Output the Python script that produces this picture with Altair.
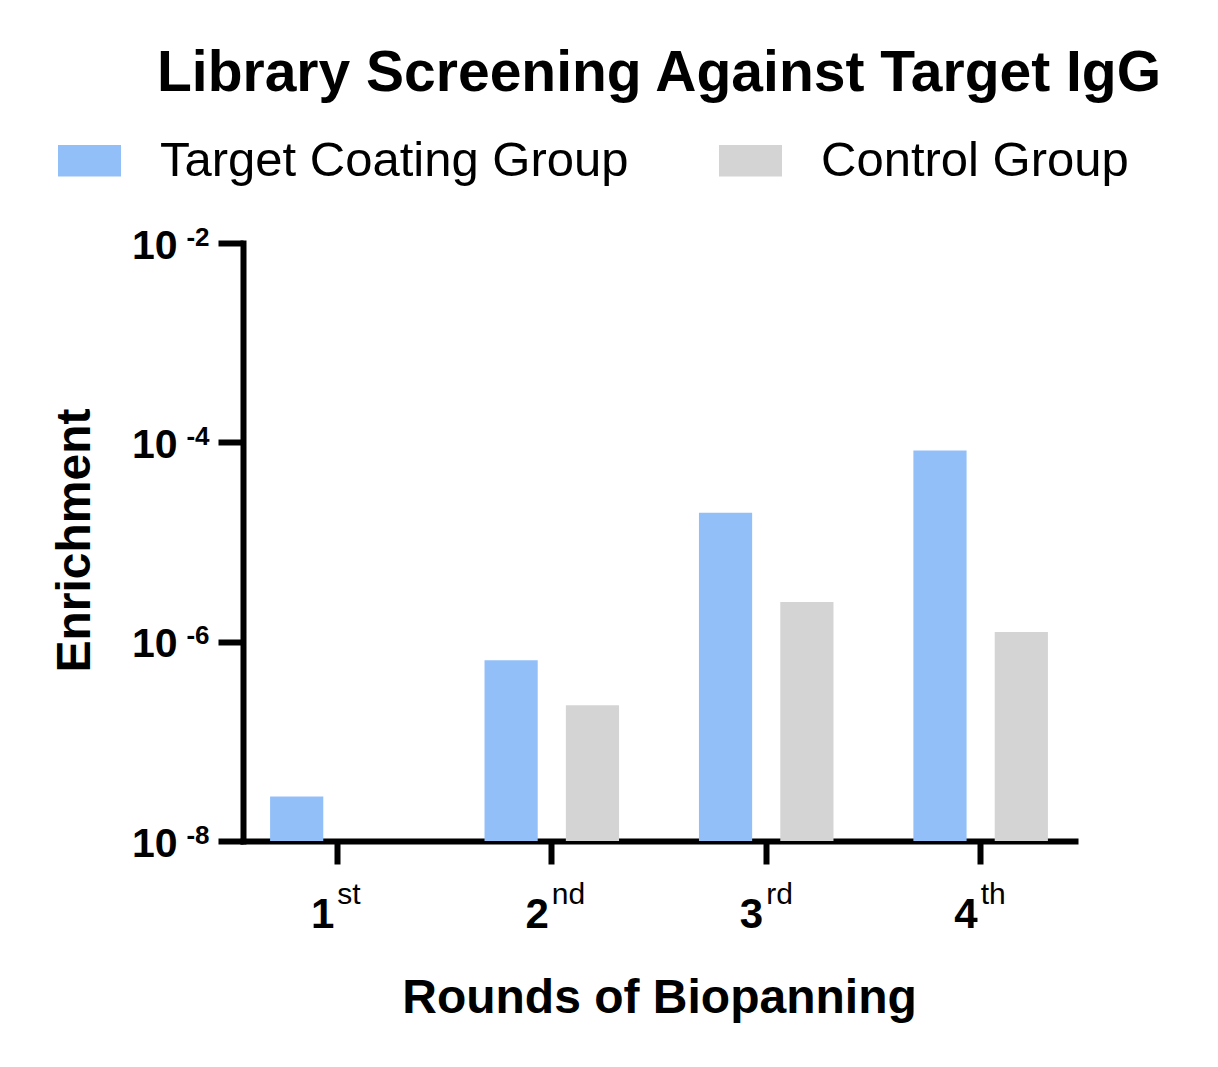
import altair as alt
import pandas as pd

TITLE = "Library Screening Against Target IgG"
X_TITLE = "Rounds of Biopanning"
Y_TITLE = "Enrichment"

ROUNDS = ["1", "2", "3", "4"]
ROUND_SUFFIXES = ["st", "nd", "rd", "th"]
GROUPS = ["Target Coating Group", "Control Group"]
GROUP_COLORS = ["#93bff8", "#d4d4d4"]
TARGET = [2.8e-8, 6.5e-7, 1.96e-5, 8.3e-5]
CONTROL = [None, 2.3e-7, 2.5e-6, 1.25e-6]
Y_TICKS = [1e-8, 1e-6, 1e-4, 1e-2]
Y_BASE = 1e-8

FONT = "Liberation Sans"
W, H = 832, 598

rows = []
for rnd, t, c in zip(ROUNDS, TARGET, CONTROL):
    rows.append({"round": rnd, "group": GROUPS[0], "value": t})
    if c is not None:
        rows.append({"round": rnd, "group": GROUPS[1], "value": c})
data = pd.DataFrame(rows)

x_scale = alt.Scale(domain=ROUNDS, paddingInner=0.12, paddingOuter=0)
offset = alt.XOffset(
    "group:N", scale=alt.Scale(domain=GROUPS, paddingInner=0.346, paddingOuter=0.333)
)
y_scale = alt.Scale(type="log", domain=[Y_TICKS[0], Y_TICKS[-1]], nice=False)

# main axes: the big numbers, lines, ticks and titles
x_main = alt.Axis(
    orient="bottom", title=X_TITLE, labelAngle=0, grid=False,
    domainColor="black", domainWidth=6, domainCap="square",
    tickColor="black", tickWidth=6, tickSize=23,
    labelFont=FONT, labelFontSize=42, labelFontWeight="bold", labelColor="black",
    labelAlign="right", labelBaseline="alphabetic", labelOffset=-3, labelPadding=63,
    titleFont=FONT, titleFontSize=48, titleFontWeight="bold", titleColor="black",
    titleX=W / 2, titleY=171, titleAlign="center", titleBaseline="alphabetic",
)
y_main = alt.Axis(
    orient="left", title=Y_TITLE, values=Y_TICKS, labelExpr="'10'", grid=False,
    domainColor="black", domainWidth=6, domainCap="square",
    tickColor="black", tickWidth=6, tickSize=25,
    labelFont=FONT, labelFontSize=41, labelFontWeight="bold", labelColor="black",
    labelAlign="right", labelBaseline="alphabetic", labelOffset=15, labelPadding=41,
    labelFlush=False, labelOverlap=False,
    titleFont=FONT, titleFontSize=48, titleFontWeight="bold", titleColor="black",
    titleAngle=270, titleX=-154, titleY=H / 2 - 2, titleAlign="center",
    titleBaseline="alphabetic",
)

# second set of axes carries the superscripts
suffix_expr = "[" + ",".join(f"'{s}'" for s in ROUND_SUFFIXES) + "][indexof(" + \
    "[" + ",".join(f"'{r}'" for r in ROUNDS) + "], datum.value)]"
x_sup = alt.Axis(
    orient="bottom", title=None, labelAngle=0, grid=False, domain=False,
    tickOpacity=0, tickSize=23, labelExpr=suffix_expr,
    labelFont=FONT, labelFontSize=30, labelColor="black",
    labelAlign="left", labelBaseline="alphabetic", labelOffset=0, labelPadding=39,
)
y_sup = alt.Axis(
    orient="left", title=None, values=Y_TICKS, grid=False, domain=False,
    tickOpacity=0, tickSize=25,
    labelExpr="'-' + round(-log(datum.value) / LN10)",
    labelFont=FONT, labelFontSize=26, labelFontWeight="bold", labelColor="black",
    labelAlign="right", labelBaseline="alphabetic", labelOffset=2, labelPadding=9,
    labelFlush=False, labelOverlap=False,
)

legend = alt.Legend(
    title=None, orient="none", legendX=-185, legendY=-114, direction="horizontal",
    columns=2, columnPadding=90, padding=0,
    symbolType="M-1,-0.5H1V0.5H-1Z", symbolSize=3969, symbolStrokeWidth=0,
    symbolOpacity=1,
    labelFont=FONT, labelFontSize=49, labelColor="black", labelOffset=39,
    labelLimit=1000, labelBaseline="middle",
)

bars = alt.Chart(data).mark_bar().encode(
    x=alt.X("round:N", sort=ROUNDS, scale=x_scale, axis=x_main),
    xOffset=offset,
    y=alt.Y("value:Q", scale=y_scale, axis=y_main),
    y2=alt.datum(Y_BASE),
    color=alt.Color(
        "group:N", scale=alt.Scale(domain=GROUPS, range=GROUP_COLORS), legend=legend
    ),
)

sup = alt.Chart(data).mark_bar(opacity=0).encode(
    x=alt.X("round:N", sort=ROUNDS, scale=x_scale, axis=x_sup),
    xOffset=offset,
    y=alt.Y("value:Q", scale=y_scale, axis=y_sup),
    y2=alt.datum(Y_BASE),
)

chart = (
    alt.layer(bars, sup)
    .resolve_axis(x="independent", y="independent")
    .properties(
        width=W,
        height=H,
        autosize=alt.AutoSizeParams(type="none"),
        padding={"left": 235, "top": 235, "right": 130, "bottom": 210},
        title=alt.Title(
            TITLE, font=FONT, fontSize=57, fontWeight="bold", color="black",
            anchor="middle", frame="group", baseline="alphabetic", offset=37, dy=56,
        ),
    )
    .configure_view(stroke=None)
)

chart.save("out.html", embed_options={"renderer": "svg", "actions": False})
